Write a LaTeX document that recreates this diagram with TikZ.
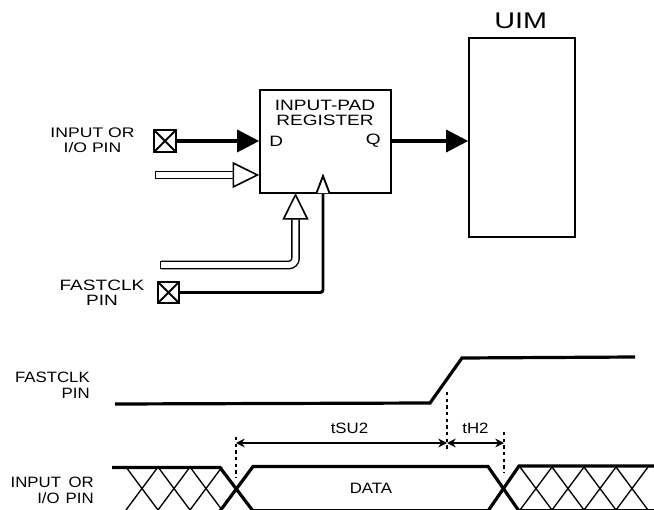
\documentclass[tikz,border=0pt]{standalone}
\usepackage{fontspec}
\setmainfont{Liberation Sans}
\newfontfamily\widefont[FakeStretch=1.27]{Liberation Sans}
\newfontfamily\timefont[FakeStretch=1.12]{Liberation Sans}
\usepackage{tikz}
\usetikzlibrary{arrows.meta,positioning}

\begin{document}
\begin{tikzpicture}[
  x=0.75pt, y=-0.75pt,
  box/.style={rectangle, draw, line width=1.2pt, inner sep=0pt},
  pin/.style={box, minimum size=16pt, line width=1.6pt,
    path picture={\draw[line width=1.4pt] (path picture bounding box.north west) -- (path picture bounding box.south east)
      (path picture bounding box.north east) -- (path picture bounding box.south west);}},
  boxlabel/.style={font=\widefont\fontsize{11.25}{11.5}\selectfont, align=center, inner sep=0pt},
  timelabel/.style={font=\timefont\fontsize{11.25}{12}\selectfont, align=right, inner sep=0pt},
  arrow/.style={-{Triangle[length=16.5pt, width=16.5pt]}, line width=2.4pt},
  hollow/.style={{Bar[width=6.7pt, line width=1.1pt]}-{Triangle[open, fill=white, length=20pt, width=19.5pt, line width=1.2pt]},
    double, double distance=4.4pt, line width=1.1pt},
  wire/.style={line width=2.2pt, line join=round},
  thickwave/.style={line width=2.4pt, line join=miter},
  thinwave/.style={line width=0.9pt},
  hatch/.style={line width=1pt},
  dim/.style={{Stealth[length=6.5pt, width=6.5pt]}-{Stealth[length=6.5pt, width=6.5pt]}, line width=1.3pt},
  guide/.style={line width=1pt, dash pattern=on 2.5pt off 2.5pt}
]
  \useasboundingbox (0,0) rectangle (654,510);

  % block part
  \node[box, minimum width=98.25pt, minimum height=77.25pt] (reg) at (325.5,141.5) {};
  \node[box, minimum width=79.5pt, minimum height=149.25pt] (uim) at (522,137.5) {};
  \node[boxlabel, font=\widefont\fontsize{17}{18}\selectfont, above=6pt of uim, xshift=-1pt] (uimlabel) {UIM};
  \node[boxlabel] (regname) at (325,113) {INPUT-PAD\\REGISTER};
  \node[boxlabel, anchor=west] (dlabel) at (269,141) {D};
  \node[boxlabel, anchor=east] (qlabel) at (381,141) {Q};

  \node[pin] (inpin) at (165,141) {};
  \node[pin] (fastpin) at (168.5,292.5) {};
  \node[boxlabel, font=\widefont\fontsize{10.4}{11.5}\selectfont] (inname) at (92.5,140) {INPUT OR\\I/O PIN};
  \node[boxlabel] (fastname) at (102,293) {FASTCLK\\PIN};

  \coordinate (hollowin) at (155,175);
  \coordinate (hollowclk) at (160,265);
  \coordinate (hollowtip) at (295.5,193);
  \coordinate (clk) at (323,193);

  \draw[arrow] (inpin) -- (inpin -| reg.west);
  \draw[arrow] (reg.east |- qlabel) -- (uim.west |- qlabel);
  \draw[hollow] (hollowin) -- (hollowin -| reg.west);
  \draw[hollow, rounded corners=5pt] (hollowclk) -| (hollowtip);
  \draw[wire, rounded corners=2pt] (fastpin) -| (clk);
  \draw[line width=1.4pt, fill=white] (clk) ++(-6.5,0) -- ++(6.5,-17) -- ++(6.5,17);

  % timing part
  \node[timelabel, anchor=east] (fastwave) at (90,385) {FASTCLK\\PIN};
  \node[timelabel, anchor=east] (inwave) at (94,490) {INPUT\hspace{0.5em}OR\\I/O\hspace{0.4em}PIN};
  \draw[thickwave] (115,404) -- (430,403) -- (462,358) -- (635,357);

  \foreach \c in {142,174,206,536,568,600,632}
    \draw[hatch] (\c-16,467) -- (\c+16,510) (\c-16,510) -- (\c+16,467);

  \draw[thinwave] (253,510) -- (488,510) (519,510) -- (654,510);
  \draw[thickwave] (112,467.5) -- (220,467.5) -- (253,511);
  \draw[thickwave] (220,511) -- (253,466.5) -- (488,466.5) -- (519,511);
  \draw[thickwave] (488,511) -- (519,466) -- (654,466);

  \coordinate (setup) at (236,443);
  \coordinate (edge) at (447,443);
  \coordinate (hold) at (504,443);
  \draw[guide] (236,437) -- (236,478);
  \draw[guide] (447,392) -- (447,450);
  \draw[guide] (504,432) -- (504,473);
  \draw[dim] (setup) -- (edge) node[midway, above=6pt, xshift=6pt, timelabel] (tsu) {tSU2};
  \draw[dim] (edge) -- (hold) node[midway, above=6.5pt, timelabel] (th) {tH2};
  \node[timelabel] (datalabel) at (371,488) {DATA};
\end{tikzpicture}
\end{document}
